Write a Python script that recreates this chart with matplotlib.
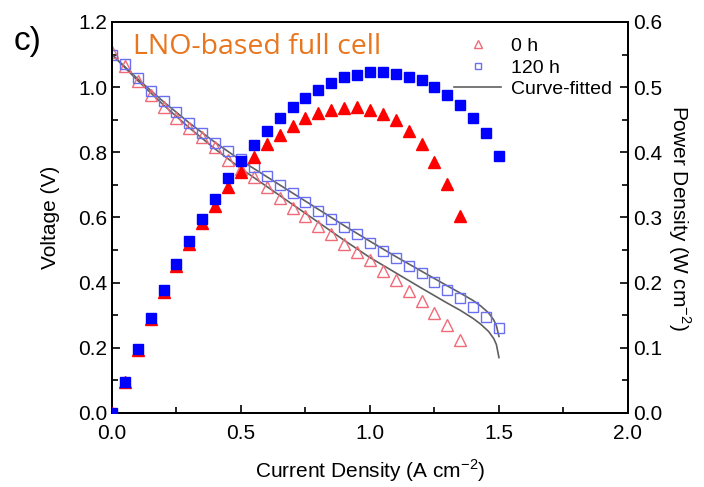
import matplotlib
matplotlib.use("Agg")
import matplotlib.pyplot as plt
from matplotlib.ticker import MultipleLocator

# current density steps (A cm-2)
j_0h = [0.00, 0.05, 0.10, 0.15, 0.20, 0.25, 0.30, 0.35, 0.40, 0.45, 0.50, 0.55, 0.60, 0.65,
        0.70, 0.75, 0.80, 0.85, 0.90, 0.95, 1.00, 1.05, 1.10, 1.15, 1.20, 1.25, 1.30, 1.35]
j_120h = j_0h + [1.40, 1.45, 1.50]

# voltage (V)
v_0h = [1.109, 1.065, 1.019, 0.976, 0.940, 0.904, 0.876, 0.848, 0.817, 0.775, 0.748, 0.725,
        0.692, 0.659, 0.628, 0.603, 0.574, 0.548, 0.519, 0.495, 0.468, 0.437, 0.408, 0.375,
        0.344, 0.308, 0.270, 0.224]
v_120h = [1.100, 1.070, 1.027, 0.989, 0.958, 0.923, 0.891, 0.860, 0.828, 0.805, 0.780, 0.756,
          0.727, 0.700, 0.674, 0.648, 0.621, 0.596, 0.572, 0.548, 0.523, 0.497, 0.475, 0.451,
          0.429, 0.403, 0.378, 0.352, 0.326, 0.296, 0.262]

# power density (W cm-2)
p_0h = [0.000, 0.047, 0.097, 0.144, 0.186, 0.225, 0.260, 0.291, 0.318, 0.346, 0.370, 0.393,
        0.412, 0.427, 0.440, 0.452, 0.460, 0.465, 0.468, 0.469, 0.465, 0.459, 0.449, 0.432,
        0.413, 0.385, 0.351, 0.302]
p_120h = [0.000, 0.047, 0.098, 0.145, 0.188, 0.228, 0.264, 0.297, 0.328, 0.360, 0.387, 0.411,
          0.432, 0.452, 0.469, 0.484, 0.496, 0.506, 0.515, 0.518, 0.523, 0.523, 0.520, 0.516,
          0.511, 0.500, 0.488, 0.473, 0.453, 0.429, 0.395]

# curve-fitted lines
j_fit = [0.0, 0.1, 0.2, 0.3, 0.4, 0.5, 0.6, 0.7, 0.8, 0.9, 1.0, 1.1, 1.2, 1.3, 1.35,
         1.4, 1.43, 1.46, 1.48, 1.49, 1.5]
v_fit_0h = [1.10, 1.02, 0.945, 0.875, 0.81, 0.75, 0.695, 0.64, 0.585, 0.53, 0.477, 0.43,
            0.383, 0.337, 0.315, 0.29, 0.272, 0.25, 0.228, 0.21, 0.17]
v_fit_120h = [1.10, 1.025, 0.955, 0.89, 0.83, 0.775, 0.725, 0.675, 0.625, 0.575, 0.527, 0.48,
              0.435, 0.39, 0.368, 0.345, 0.328, 0.307, 0.285, 0.268, 0.235]

RED, BLUE = "#ff0000", "#0000ff"
PINK, LBLUE = "#f06a78", "#6a6ef0"
FIT = "#606060"

plt.rcParams.update({"font.family": ["Liberation Sans", "DejaVu Sans"], "font.size": 14,
                     "mathtext.fontset": "custom", "mathtext.rm": "Liberation Sans"})

fig = plt.figure(figsize=(7.04, 4.87), dpi=100)
ax = fig.add_axes([0.159, 0.152, 0.733, 0.803])
ax2 = ax.twinx()

ax.plot(j_fit, v_fit_0h, color=FIT, lw=1.2, label="Curve-fitted", zorder=2)
ax.plot(j_fit, v_fit_120h, color=FIT, lw=1.2, zorder=2)
ax.plot(j_0h, v_0h, ls="none", marker="^", ms=8, mfc="none", mec=PINK, mew=1.0,
        label="0 h", zorder=3)
ax.plot(j_120h, v_120h, ls="none", marker="s", ms=7, mfc="none", mec=LBLUE, mew=1.0,
        label="120 h", zorder=3)

ax2.plot(j_0h, p_0h, ls="none", marker="^", ms=8, color=RED, zorder=3)
ax2.plot(j_120h, p_120h, ls="none", marker="s", ms=7, color=BLUE, zorder=4)

ax.set_xlim(0, 2.0)
ax.set_ylim(0, 1.2)
ax2.set_ylim(0, 0.6)
ax.xaxis.set_major_locator(MultipleLocator(0.5))
ax.xaxis.set_minor_locator(MultipleLocator(0.25))
ax.yaxis.set_major_locator(MultipleLocator(0.2))
ax.yaxis.set_minor_locator(MultipleLocator(0.1))
ax2.yaxis.set_major_locator(MultipleLocator(0.1))
ax2.yaxis.set_minor_locator(MultipleLocator(0.05))
ax.xaxis.set_major_formatter(plt.FormatStrFormatter("%.1f"))
ax.yaxis.set_major_formatter(plt.FormatStrFormatter("%.1f"))
ax2.yaxis.set_major_formatter(plt.FormatStrFormatter("%.1f"))

for a in (ax, ax2):
    a.tick_params(which="both", direction="in", width=1.2, labelsize=15)
    a.tick_params(which="major", length=6)
    a.tick_params(which="minor", length=4)
    for s in a.spines.values():
        s.set_linewidth(1.4)
ax.tick_params(axis="x", pad=8)

ax.set_xlabel("Current Density (A cm$^{-2}$)", fontsize=15, labelpad=10)
ax.set_ylabel("Voltage (V)", fontsize=15, labelpad=13)
ax2.set_ylabel("Power Density (W cm$^{-2}$)", fontsize=15, rotation=270, labelpad=22)

ax.text(0.04, 0.935, "LNO-based full cell", transform=ax.transAxes, color="#e8761f",
        fontsize=20.5, family="Open Sans", va="center")
fig.text(0.02, 0.915, "c)", fontsize=24, va="center")

h, l = ax.get_legend_handles_labels()
order = [1, 2, 0]
ax.legend([h[i] for i in order], [l[i] for i in order], loc="upper right",
          bbox_to_anchor=(0.995, 0.995), frameon=False, fontsize=14, handlelength=2.4,
          markerscale=0.7, borderpad=0.2, labelspacing=0.2, handletextpad=0.5)

fig.savefig("out.png", dpi=100)
